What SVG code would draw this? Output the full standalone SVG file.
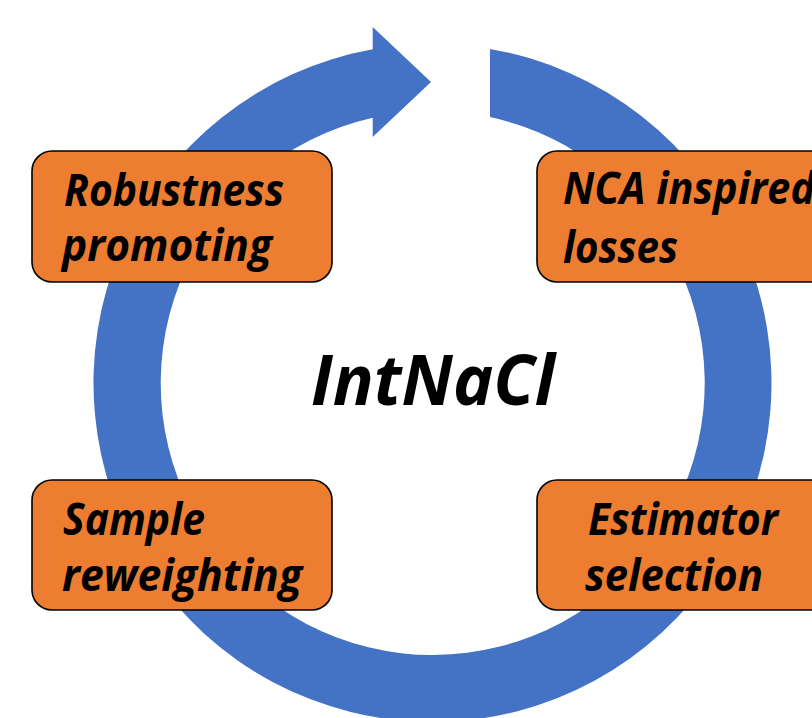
<svg xmlns="http://www.w3.org/2000/svg" width="812" height="718" viewBox="0 0 812 718">
<style>
.ring{fill:#4472C4}
.box{fill:#ED7D31;stroke:#000;stroke-width:1.6}
.lbl{font-family:"Open Sans","Noto Sans",sans-serif;font-weight:700;font-style:italic;font-size:44px;fill:#000}
.title{font-family:"Open Sans","Noto Sans",sans-serif;font-weight:700;font-style:italic;font-size:70px;fill:#000}
</style>
<rect width="812" height="718" fill="#fff"/>
<g id="connectors">
<path class="ring" d="M 490 48.9 A 339 339 0 1 1 372.7 49.3 L 372.7 27 L 431 82 L 372.7 137 L 372.7 117.7 A 272 272 0 1 0 490 117.1 Z"/>
</g>
<g id="center">
<text class="title" x="311" y="405" textLength="244" lengthAdjust="spacingAndGlyphs">IntNaCl</text>
</g>
<g id="robustness">
<rect class="box" x="32" y="151" width="300" height="131" rx="20"/>
<text class="lbl" x="64" y="206" textLength="220" lengthAdjust="spacingAndGlyphs">Robustness</text>
<text class="lbl" x="62" y="261" textLength="210" lengthAdjust="spacingAndGlyphs">promoting</text>
</g>
<g id="nca">
<rect class="box" x="537" y="151" width="300" height="131" rx="20"/>
<text class="lbl" x="563" y="204" textLength="252" lengthAdjust="spacingAndGlyphs">NCA inspired</text>
<text class="lbl" x="563" y="263" textLength="115" lengthAdjust="spacingAndGlyphs">losses</text>
</g>
<g id="sample">
<rect class="box" x="32" y="480" width="300" height="130" rx="20"/>
<text class="lbl" x="63" y="535" textLength="142" lengthAdjust="spacingAndGlyphs">Sample</text>
<text class="lbl" x="62" y="591" textLength="240" lengthAdjust="spacingAndGlyphs">reweighting</text>
</g>
<g id="estimator">
<rect class="box" x="537" y="480" width="300" height="130" rx="20"/>
<text class="lbl" x="588" y="535" textLength="190" lengthAdjust="spacingAndGlyphs">Estimator</text>
<text class="lbl" x="585" y="591" textLength="178" lengthAdjust="spacingAndGlyphs">selection</text>
</g>
</svg>
